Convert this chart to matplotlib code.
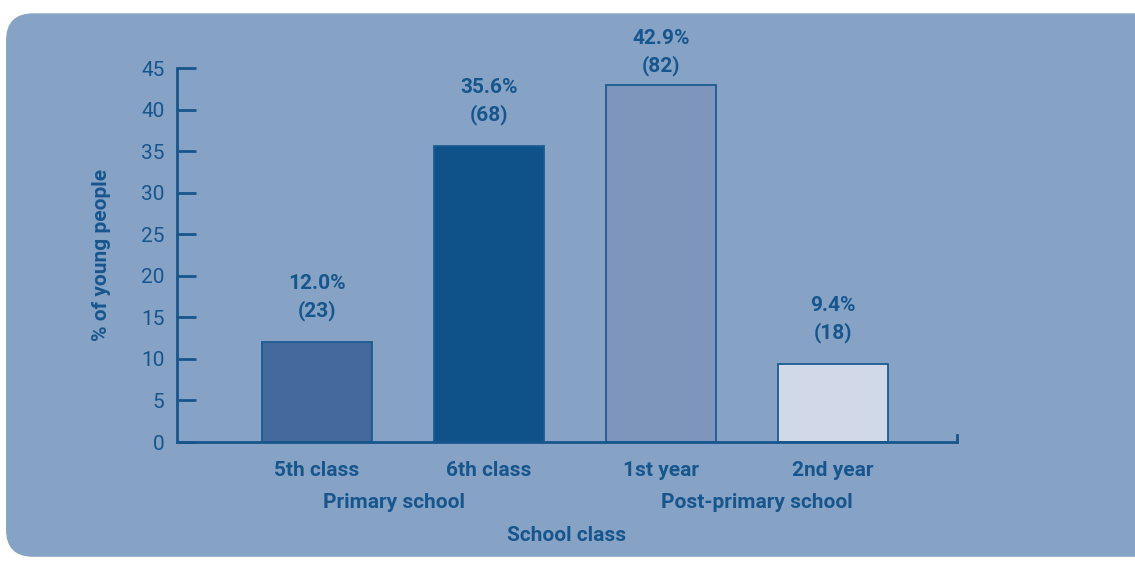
import numpy as np
import matplotlib.pyplot as plt
from matplotlib.patches import FancyBboxPatch

classes = ["5th class", "6th class", "1st year", "2nd year"]
schools = ["Primary school", "Post-primary school"]
school_pos = [1.45, 3.56]
percent = [12.0, 35.6, 42.9, 9.4]
counts = [23, 68, 82, 18]
bar_colors = ["#436a9b", "#0f5289", "#7e95bc", "#d1d8e7"]

ink = "#17568d"
panel = "#86a3c6"

plt.rcParams['font.family'] = ['Roboto', 'DejaVu Sans']
fs = 15

fig = plt.figure(figsize=(11.35, 5.73), dpi=100)
fig.patch.set_facecolor("white")

# rounded background panel, sits behind the axes
box = FancyBboxPatch((0.0053 + 0.012, 0.028 + 0.024), 1.2, 0.949 - 0.048,
                     boxstyle="round,pad=0.012,rounding_size=0.024",
                     transform=fig.transFigure, facecolor=panel,
                     edgecolor="none", mutation_aspect=1135 / 573, zorder=-5)
fig.patches.append(box)

ax = fig.add_axes([0.156, 0.2286, 0.687, 0.6527])
ax.set_facecolor("none")

x = np.arange(1, len(classes) + 1)
ax.bar(x, percent, width=0.64, color=bar_colors, edgecolor="#1c5b91",
       linewidth=1.3, zorder=2)

# value labels; the tallest one is pulled down to stay inside the panel
for xi, p, c in zip(x, percent, counts):
    off = 15 if p < 40 else 7
    ax.annotate(f"{p:.1f}%\n({c})", (xi, p), xytext=(0, off),
                textcoords="offset points", ha="center", va="bottom",
                fontsize=fs, fontweight="bold", color=ink, linespacing=1.45)

ax.set_xlim(0.186, 4.72)
ax.set_ylim(0, 45)
ax.set_yticks(range(0, 46, 5))
ax.set_xticks(x)
ax.set_xticklabels(classes, fontsize=fs, fontweight="bold", color=ink)

for s in ["top", "right"]:
    ax.spines[s].set_visible(False)
for s in ["left", "bottom"]:
    ax.spines[s].set_color(ink)
    ax.spines[s].set_linewidth(2)

ax.tick_params(axis="y", direction="in", length=14, width=2, color=ink,
               labelcolor=ink, labelsize=fs, pad=9)
ax.tick_params(axis="x", length=0, pad=14)
ax.axvline(4.72, ymin=0, ymax=0.02, color=ink, lw=2, clip_on=False)

# school level group labels under the class names
for label, xc in zip(schools, school_pos):
    ax.annotate(label, (xc, 0), xycoords=("data", "axes fraction"),
                xytext=(0, -37), textcoords="offset points",
                ha="center", va="top", fontsize=fs, fontweight="bold", color=ink)

ax.set_ylabel("% of young people", fontsize=fs, fontweight="bold", color=ink,
              labelpad=22)
ax.set_xlabel("School class", fontsize=fs, fontweight="bold", color=ink,
              labelpad=33)

plt.savefig("out.png", dpi=100, facecolor="white")
